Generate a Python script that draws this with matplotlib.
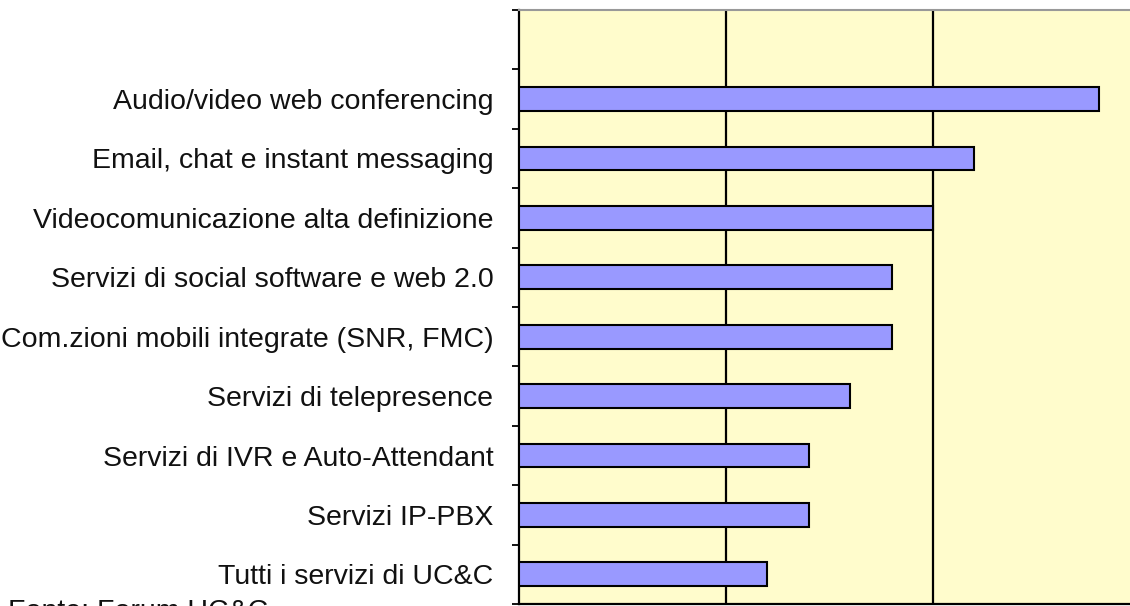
import numpy as np
import matplotlib
matplotlib.use("Agg")
import matplotlib.pyplot as plt

servizi = [
    "Audio/video web conferencing",
    "Email, chat e instant messaging",
    "Videocomunicazione alta definizione",
    "Servizi di social software e web 2.0",
    "Com.zioni mobili integrate (SNR, FMC)",
    "Servizi di telepresence",
    "Servizi di IVR e Auto-Attendant",
    "Servizi IP-PBX",
    "Tutti i servizi di UC&C",
]
valori = [28, 22, 20, 18, 18, 16, 14, 14, 12]
fonte = "Fonte: Forum UC&C"

plt.rcParams['font.family'] = ['Liberation Sans', 'DejaVu Sans']

W, H = 1130, 606
fig = plt.figure(figsize=(W / 100, H / 100), dpi=100)
x0, x1 = 519, 1160
y_top, y_bot = 10, 604
ax = fig.add_axes([x0 / W, (H - y_bot) / H, (x1 - x0) / W, (y_bot - y_top) / H])
ax.set_facecolor('#FFFCCC')

pos = np.arange(len(servizi))
ax.barh(pos, valori, height=0.4, color='#9999FF', edgecolor='black', linewidth=1.5, zorder=3)

unit = 207 / 10.0
ax.set_xlim(0, (x1 - x0) / unit)
ax.set_ylim(len(servizi) - 0.5, -1.5)

for g in [10, 20, 30]:
    ax.axvline(g, color='black', lw=1.6, zorder=2)

ax.set_xticks([])
ax.set_yticks(np.arange(-1.5, len(servizi), 1.0))
ax.set_yticklabels([])
ax.tick_params(axis='y', which='major', length=5, width=1.3, direction='out', color='black')
ax.set_yticks(pos, minor=True)
ax.set_yticklabels(servizi, minor=True, fontsize=20.5, color='#111111')
ax.tick_params(axis='y', which='minor', length=0, pad=18.5)

ax.spines['right'].set_visible(False)
ax.spines['top'].set_color('#999999')
ax.spines['top'].set_linewidth(1.5)
ax.spines['left'].set_linewidth(1.6)
ax.spines['bottom'].set_linewidth(1.6)

fig.text(8 / W, (H - 599) / H, fonte, fontsize=20.5, va='top', ha='left', color='#111111')

fig.savefig('out.png', dpi=100)
